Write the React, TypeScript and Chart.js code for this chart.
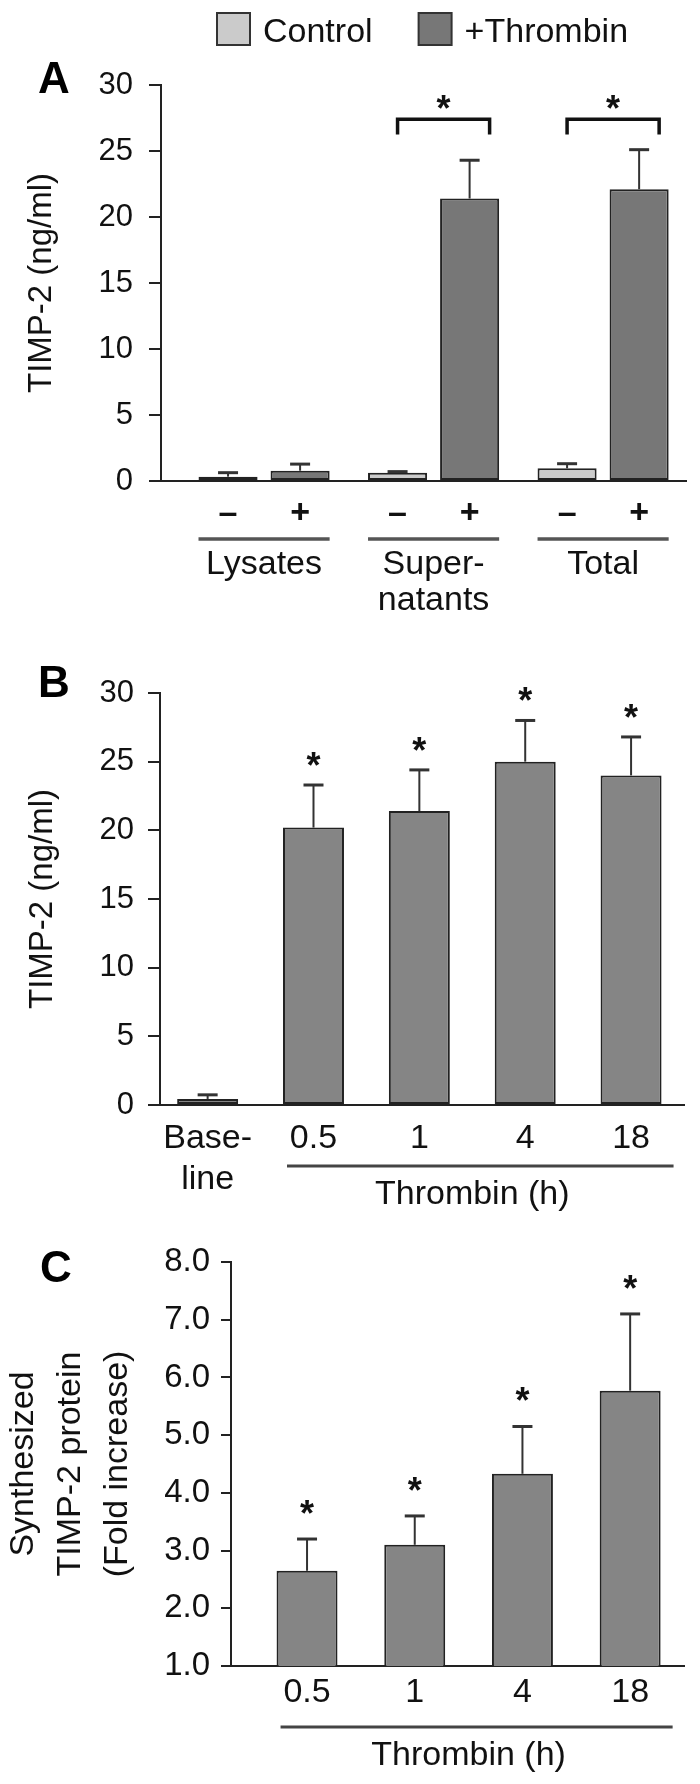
import React, { useEffect, useRef } from "react";
import { Chart, registerables } from "chart.js";

Chart.register(...registerables);

const FONT = "'Liberation Sans', Arial, Helvetica, sans-serif";
const INK = "#111111";
const LINE = "#222222";

// ---------------- Panel A ----------------
const groupLabelsA: (string | string[])[] = ["Lysates", ["Super-", "natants"], "Total"];
const seriesA = ["Control", "+Thrombin"];
const treatmentMarksA = ["–", "+"];
const controlA = [0.33, 0.63, 0.96];
const controlSemA = [0.3, 0.08, 0.35];
const thrombinA = [0.78, 21.4, 22.1];
const thrombinSemA = [0.5, 2.9, 3.0];
const significantGroupsA = [1, 2];
const bracketLevelA = 27.4;
const yTicksA = { min: 0, max: 30, step: 5 };
const yTitleA = "TIMP-2 (ng/ml)";

// ---------------- Panel B ----------------
const labelsB: (string | string[])[] = [["Base-", "line"], "0.5", "1", "4", "18"];
const valuesB = [0.44, 20.2, 21.4, 25.0, 24.0];
const semB = [0.3, 3.1, 3.0, 3.0, 2.8];
const significantB = [false, true, true, true, true];
const thrombinIdxB = [1, 2, 3, 4];
const yTicksB = { min: 0, max: 30, step: 5 };
const yTitleB = "TIMP-2 (ng/ml)";
const groupTitleB = "Thrombin (h)";

// ---------------- Panel C ----------------
const labelsC: string[] = ["0.5", "1", "4", "18"];
const valuesC = [2.65, 3.1, 4.33, 5.77];
const semC = [0.55, 0.5, 0.82, 1.33];
const significantC = [true, true, true, true];
const thrombinIdxC = [0, 1, 2, 3];
const yTicksC = { min: 1, max: 8, step: 1 };
const yTitleC = ["Synthesized", "TIMP-2 protein", "(Fold increase)"];
const groupTitleC = "Thrombin (h)";

const xy = (vals: number[]) => vals.map((v, i) => ({ x: i, y: v }));

const fixBox = (w?: number, h?: number) => (s: any) => {
  if (w !== undefined) s.width = w;
  if (h !== undefined) s.height = h;
  s.paddingLeft = 0;
  s.paddingRight = 0;
  s.paddingTop = 0;
  s.paddingBottom = 0;
};

const indexTicks = (n: number) => (s: any) => {
  s.ticks = Array.from({ length: n }, (_, i) => ({ value: i }));
};

function drawErrors(chart: any, sems: number[][]) {
  const ctx = chart.ctx;
  const y = chart.scales.y;
  ctx.strokeStyle = "#333333";
  sems.forEach((sem, d) => {
    const meta = chart.getDatasetMeta(d);
    meta.data.forEach((el: any, i: number) => {
      const v = chart.data.datasets[d].data[i].y;
      const top = y.getPixelForValue(v + sem[i]);
      ctx.lineWidth = 2;
      ctx.beginPath();
      ctx.moveTo(el.x, el.y);
      ctx.lineTo(el.x, top);
      ctx.stroke();
      ctx.lineWidth = 3;
      ctx.beginPath();
      ctx.moveTo(el.x - 10, top);
      ctx.lineTo(el.x + 10, top);
      ctx.stroke();
    });
  });
}

function drawStar(ctx: CanvasRenderingContext2D, x: number, cy: number, size: number) {
  ctx.font = `bold ${size}px ${FONT}`;
  ctx.fillStyle = INK;
  ctx.textAlign = "center";
  ctx.textBaseline = "alphabetic";
  const m = ctx.measureText("*");
  const asc = m.actualBoundingBoxAscent || size * 0.72;
  const desc = m.actualBoundingBoxDescent || -size * 0.45;
  ctx.fillText("*", x, cy + (asc - desc) / 2);
}

function drawLetter(ctx: CanvasRenderingContext2D, letter: string, x: number, baseline: number) {
  ctx.font = `bold 44px ${FONT}`;
  ctx.fillStyle = "#000000";
  ctx.textAlign = "left";
  ctx.textBaseline = "alphabetic";
  ctx.fillText(letter, x, baseline);
}

function drawGroupTitle(chart: any, idx: number[], title: string) {
  const ctx = chart.ctx;
  const meta = chart.getDatasetMeta(0).data;
  const first = meta[idx[0]];
  const last = meta[idx[idx.length - 1]];
  const left = first.x - first.width / 2;
  const right = last.x + last.width / 2;
  const axisY = chart.chartArea.bottom;
  ctx.strokeStyle = "#444444";
  ctx.lineWidth = 3;
  ctx.beginPath();
  ctx.moveTo(left + 4, axisY + 61);
  ctx.lineTo(right + 12, axisY + 61);
  ctx.stroke();
  ctx.font = `34px ${FONT}`;
  ctx.fillStyle = INK;
  ctx.textAlign = "center";
  ctx.textBaseline = "middle";
  ctx.fillText(title, (left + right) / 2, axisY + 90);
}

function drawSignificance(chart: any, sem: number[], sig: boolean[], gap: number) {
  const ctx = chart.ctx;
  const y = chart.scales.y;
  const meta = chart.getDatasetMeta(0).data;
  meta.forEach((el: any, i: number) => {
    if (!sig[i]) return;
    const v = chart.data.datasets[0].data[i].y;
    const top = y.getPixelForValue(v + sem[i]);
    drawStar(ctx, el.x, top - gap, 36);
  });
}

const pluginA = {
  id: "panelA",
  afterDatasetsDraw(chart: any) {
    const ctx = chart.ctx;
    const y = chart.scales.y;
    ctx.save();
    drawErrors(chart, [controlSemA, thrombinSemA]);
    const m0 = chart.getDatasetMeta(0).data;
    const m1 = chart.getDatasetMeta(1).data;
    significantGroupsA.forEach((g) => {
      const x1 = m0[g].x;
      const x2 = m1[g].x + 20;
      const yTop = y.getPixelForValue(bracketLevelA);
      const yArm = y.getPixelForValue(bracketLevelA - 1.15);
      ctx.strokeStyle = INK;
      ctx.lineWidth = 3.5;
      ctx.lineJoin = "miter";
      ctx.beginPath();
      ctx.moveTo(x1, yArm);
      ctx.lineTo(x1, yTop);
      ctx.lineTo(x2, yTop);
      ctx.lineTo(x2, yArm);
      ctx.stroke();
      drawStar(ctx, (x1 + x2) / 2, yTop - 17, 36);
    });
    const axisY = chart.chartArea.bottom;
    ctx.font = `bold 34px ${FONT}`;
    ctx.fillStyle = INK;
    ctx.textAlign = "center";
    ctx.textBaseline = "middle";
    [m0, m1].forEach((meta, d) => {
      meta.forEach((el: any) => ctx.fillText(treatmentMarksA[d], el.x, axisY + 33));
    });
    ctx.strokeStyle = "#555555";
    ctx.lineWidth = 3.5;
    m0.forEach((el: any, i: number) => {
      const r = m1[i];
      ctx.beginPath();
      ctx.moveTo(el.x - el.width / 2, axisY + 58);
      ctx.lineTo(r.x + r.width / 2, axisY + 58);
      ctx.stroke();
    });
    ctx.restore();
  },
  afterDraw(chart: any) {
    const ctx = chart.ctx;
    ctx.save();
    drawLetter(ctx, "A", 38, 93);
    let x = 217;
    ctx.font = `34px ${FONT}`;
    ctx.textBaseline = "alphabetic";
    ctx.textAlign = "left";
    chart.data.datasets.forEach((ds: any) => {
      ctx.fillStyle = ds.backgroundColor;
      ctx.fillRect(x, 13, 33, 32);
      ctx.strokeStyle = "#333333";
      ctx.lineWidth = 2;
      ctx.strokeRect(x, 13, 33, 32);
      x += 46;
      ctx.fillStyle = INK;
      ctx.fillText(ds.label, x, 42);
      x += ctx.measureText(ds.label).width + 46;
    });
    ctx.restore();
  },
};

const pluginB = {
  id: "panelB",
  afterDatasetsDraw(chart: any) {
    const ctx = chart.ctx;
    ctx.save();
    drawErrors(chart, [semB]);
    drawSignificance(chart, semB, significantB, 26);
    drawGroupTitle(chart, thrombinIdxB, groupTitleB);
    drawLetter(ctx, "B", 38, 72);
    ctx.restore();
  },
};

const pluginC = {
  id: "panelC",
  afterDatasetsDraw(chart: any) {
    const ctx = chart.ctx;
    ctx.save();
    drawErrors(chart, [semC]);
    drawSignificance(chart, semC, significantC, 32);
    drawGroupTitle(chart, thrombinIdxC, groupTitleC);
    drawLetter(ctx, "C", 40, 57);
    ctx.restore();
  },
};

const barStyle = {
  borderColor: LINE,
  borderWidth: 2,
  borderSkipped: false,
};

function yScale(t: { min: number; max: number; step: number }, width: number, tickLen: number, pad: number, size: number, title: any, fmt?: (v: number) => string) {
  return {
    min: t.min,
    max: t.max,
    afterFit: fixBox(width),
    ticks: {
      stepSize: t.step,
      padding: pad,
      color: INK,
      font: { family: FONT, size },
      callback: fmt ? (v: any) => fmt(Number(v)) : undefined,
    },
    grid: { drawOnChartArea: false, tickLength: tickLen, color: LINE, lineWidth: 2 },
    border: { display: true, color: LINE, width: 2 },
    title,
  };
}

function xScale(min: number, max: number, labels: (string | string[])[], pad: number, lh: number, height: number) {
  return {
    type: "linear",
    bounds: "data",
    offset: false,
    min,
    max,
    afterBuildTicks: indexTicks(labels.length),
    afterFit: fixBox(undefined, height),
    grid: { display: false, drawTicks: false, offset: false },
    border: { display: true, color: LINE, width: 2 },
    ticks: {
      autoSkip: false,
      maxRotation: 0,
      minRotation: 0,
      padding: pad,
      color: INK,
      font: { family: FONT, size: 34, lineHeight: lh },
      callback: (v: any) => labels[Math.round(Number(v))],
    },
  };
}

function configA(): any {
  return {
    type: "bar",
    data: {
      datasets: [
        { label: seriesA[0], data: xy(controlA), backgroundColor: "#cbcbcb", ...barStyle, categoryPercentage: 0.85, barPercentage: 0.82 },
        { label: seriesA[1], data: xy(thrombinA), backgroundColor: "#777777", ...barStyle, categoryPercentage: 0.85, barPercentage: 0.82 },
      ],
    },
    options: {
      responsive: false,
      animation: false,
      events: [],
      layout: { padding: { top: 85, bottom: 0, left: 0, right: 14 } },
      plugins: { legend: { display: false }, tooltip: { enabled: false } },
      scales: {
        x: xScale(-0.608, 2.489, groupLabelsA, 66, 1.06, 144),
        y: yScale(yTicksA, 161, 12, 16, 31, {
          display: true,
          text: yTitleA,
          color: INK,
          font: { family: FONT, size: 33, lineHeight: 1.2 },
          padding: { top: 22, bottom: 0 },
        }),
      },
    },
    plugins: [pluginA],
  };
}

function configB(): any {
  return {
    type: "bar",
    data: {
      datasets: [
        { label: groupTitleB, data: xy(valuesB), backgroundColor: "#858585", ...barStyle, categoryPercentage: 1, barPercentage: 0.576 },
      ],
    },
    options: {
      responsive: false,
      animation: false,
      events: [],
      layout: { padding: { top: 68, bottom: 0, left: 0, right: 16 } },
      plugins: { legend: { display: false }, tooltip: { enabled: false } },
      scales: {
        x: xScale(-0.45, 4.5, labelsB, 14, 1.18, 120),
        y: yScale(yTicksB, 160, 12, 14, 31, {
          display: true,
          text: yTitleB,
          color: INK,
          font: { family: FONT, size: 33, lineHeight: 1.2 },
          padding: { top: 23, bottom: 0 },
        }),
      },
    },
    plugins: [pluginB],
  };
}

function configC(): any {
  return {
    type: "bar",
    data: {
      datasets: [
        { label: groupTitleC, data: xy(valuesC), backgroundColor: "#858585", ...barStyle, categoryPercentage: 1, barPercentage: 0.566 },
      ],
    },
    options: {
      responsive: false,
      animation: false,
      events: [],
      layout: { padding: { top: 37, bottom: 0, left: 0, right: 16 } },
      plugins: { legend: { display: false }, tooltip: { enabled: false } },
      scales: {
        x: xScale(-0.706, 3.5, labelsC, 7, 1.18, 118),
        y: yScale(
          yTicksC,
          231,
          10,
          11,
          33,
          {
            display: true,
            text: yTitleC,
            color: INK,
            font: { family: FONT, size: 34, lineHeight: 1.38 },
            padding: { top: 0, bottom: 0 },
          },
          (v) => v.toFixed(1)
        ),
      },
    },
    plugins: [pluginC],
  };
}

function Panel({ top, height, make }: { top: number; height: number; make: () => any }) {
  const ref = useRef<HTMLCanvasElement>(null);
  useEffect(() => {
    const chart = new Chart(ref.current as HTMLCanvasElement, make());
    return () => chart.destroy();
  }, []);
  return (
    <canvas
      ref={ref}
      width={700}
      height={height}
      style={{ position: "absolute", left: 0, top, width: 700, height, display: "block" }}
    />
  );
}

export default function App() {
  return (
    <div style={{ position: "absolute", left: 0, top: 0, width: 700, height: 1784, background: "#ffffff", overflow: "hidden" }}>
      <Panel top={0} height={625} make={configA} />
      <Panel top={625} height={600} make={configB} />
      <Panel top={1225} height={559} make={configC} />
    </div>
  );
}
